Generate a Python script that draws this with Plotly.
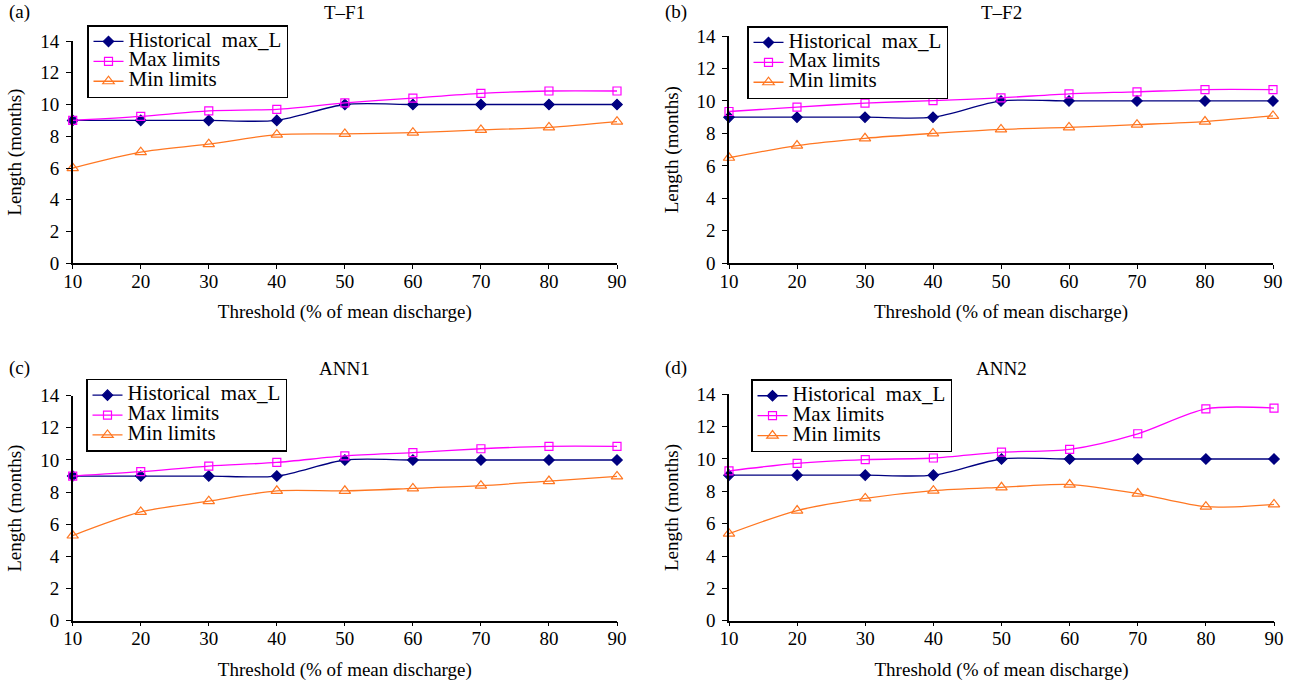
import plotly.graph_objects as go

thresholds = [10, 20, 30, 40, 50, 60, 70, 80, 90]

hist_a = [9, 9, 9, 9, 10, 10, 10, 10, 10]
max_a = [9.0, 9.25, 9.6, 9.7, 10.1, 10.4, 10.7, 10.85, 10.85]
min_a = [6.0, 7.0, 7.5, 8.1, 8.15, 8.23, 8.4, 8.56, 8.92]

hist_b = [9, 9, 9, 9, 10, 10, 10, 10, 10]
max_b = [9.35, 9.62, 9.87, 10.02, 10.19, 10.44, 10.56, 10.7, 10.7]
min_b = [6.5, 7.25, 7.7, 8.0, 8.25, 8.37, 8.54, 8.73, 9.08]

hist_c = [9, 9, 9, 9, 10, 10, 10, 10, 10]
max_c = [9.0, 9.27, 9.62, 9.85, 10.25, 10.46, 10.7, 10.85, 10.85]
min_c = [5.3, 6.77, 7.44, 8.08, 8.08, 8.23, 8.4, 8.69, 8.98]

hist_d = [9, 9, 9, 9, 10, 10, 10, 10, 10]
max_d = [9.27, 9.73, 9.96, 10.06, 10.42, 10.6, 11.56, 13.1, 13.15]
min_d = [5.38, 6.81, 7.56, 8.04, 8.25, 8.42, 7.86, 7.05, 7.19]

panel_titles = ["T\u2013F1", "T\u2013F2", "ANN1", "ANN2"]
panel_tags = ["(a)", "(b)", "(c)", "(d)"]
series_names = ["Historical\u00a0\u00a0max_L", "Max limits", "Min limits"]
x_ticks = [10, 20, 30, 40, 50, 60, 70, 80, 90]
y_ticks = [0, 2, 4, 6, 8, 10, 12, 14]

C_HIST = "#000080"
C_MAX = "#FF00FF"
C_MIN = "#FF7722"
FONT = "Liberation Serif, DejaVu Serif, serif"
FS = 19

W, H = 1298, 683
panels = [
    (hist_a, max_a, min_a),
    (hist_b, max_b, min_b),
    (hist_c, max_c, min_c),
    (hist_d, max_d, min_d),
]
# pixel boxes in the reference: (left, right, top, bottom)
boxes = [
    (72.7, 617, 41, 263.3),
    (729, 1273, 36, 263.3),
    (72.7, 617, 395.7, 620.7),
    (729, 1274, 394.3, 620.7),
]
legend_pos = [(87, 25), (747, 26), (86, 378.7), (751, 379.3)]
title_y = [12, 12, 368, 368]

fig = go.Figure()
layout = dict(
    width=W, height=H,
    margin=dict(l=0, r=0, t=0, b=0, autoexpand=False),
    paper_bgcolor="white", plot_bgcolor="white",
    font=dict(family=FONT, size=FS, color="black"),
    annotations=[],
)

def px_x(v):
    return v / W

def px_y(v):
    return 1 - v / H

for i, (hs, mx, mn) in enumerate(panels):
    k = "" if i == 0 else str(i + 1)
    xa, ya = "x" + k, "y" + k
    leg = "legend" if i == 0 else "legend" + str(i + 1)
    specs = [
        (hs, series_names[0], C_HIST, "diamond", C_HIST, 8),
        (mx, series_names[1], C_MAX, "square-open", C_MAX, 8),
        (mn, series_names[2], C_MIN, "triangle-up-open", C_MIN, 10),
    ]
    for vals, name, col, sym, mcol, msz in specs:
        fig.add_trace(go.Scatter(
            x=thresholds, y=vals,
            name="<span style='font-size:21px'>%s</span>" % name,
            mode="lines+markers",
            line=dict(color=col, width=1.3, shape="spline", smoothing=0.8),
            marker=dict(symbol=sym, color=mcol, size=msz, line=dict(color=mcol, width=1.2)),
            xaxis=xa, yaxis=ya, legend=leg, cliponaxis=False,
        ))
    l, r, t, b = boxes[i]
    layout["xaxis" + k] = dict(
        domain=[px_x(l), px_x(r)], range=[10, 90], tickvals=x_ticks,
        showline=True, linecolor="black", linewidth=1.5, ticks="outside",
        ticklen=4, tickcolor="black", showgrid=False, zeroline=False,
        anchor=ya, automargin=False, ticklabelstandoff=-4,
        tickfont=dict(family=FONT, size=FS),
        title=dict(text="Threshold (% of mean discharge)",
                   font=dict(family=FONT, size=FS), standoff=14),
    )
    layout["yaxis" + k] = dict(
        domain=[px_y(b), px_y(t)], range=[0, 14], tickvals=y_ticks,
        showline=True, linecolor="black", linewidth=1.5, ticks="outside",
        ticklen=5, tickcolor="black", showgrid=False, zeroline=False,
        anchor=xa, automargin=False, ticklabelstandoff=3,
        tickfont=dict(family=FONT, size=FS),
        title=dict(text="Length (months)",
                   font=dict(family=FONT, size=FS), standoff=13),
    )
    lx, ly = legend_pos[i]
    layout[leg] = dict(
        x=px_x(lx), y=px_y(ly), xanchor="left", yanchor="top",
        xref="paper", yref="paper",
        bordercolor="black", borderwidth=1.5, bgcolor="white",
        font=dict(family=FONT, size=13), tracegroupgap=0,
        itemwidth=30,
    )
    layout["annotations"].append(dict(
        text=panel_titles[i], x=px_x((l + r) / 2), y=px_y(title_y[i]),
        xref="paper", yref="paper", showarrow=False,
        xanchor="center", yanchor="middle", font=dict(family=FONT, size=FS),
    ))
    layout["annotations"].append(dict(
        text=panel_tags[i], x=px_x(l - 66), y=px_y(title_y[i]),
        xref="paper", yref="paper", showarrow=False,
        xanchor="left", yanchor="middle", font=dict(family=FONT, size=FS),
    ))

fig.update_layout(**layout)
fig.write_html("out.html", config={"displayModeBar": False},
               post_script="document.body.style.margin='0';")
